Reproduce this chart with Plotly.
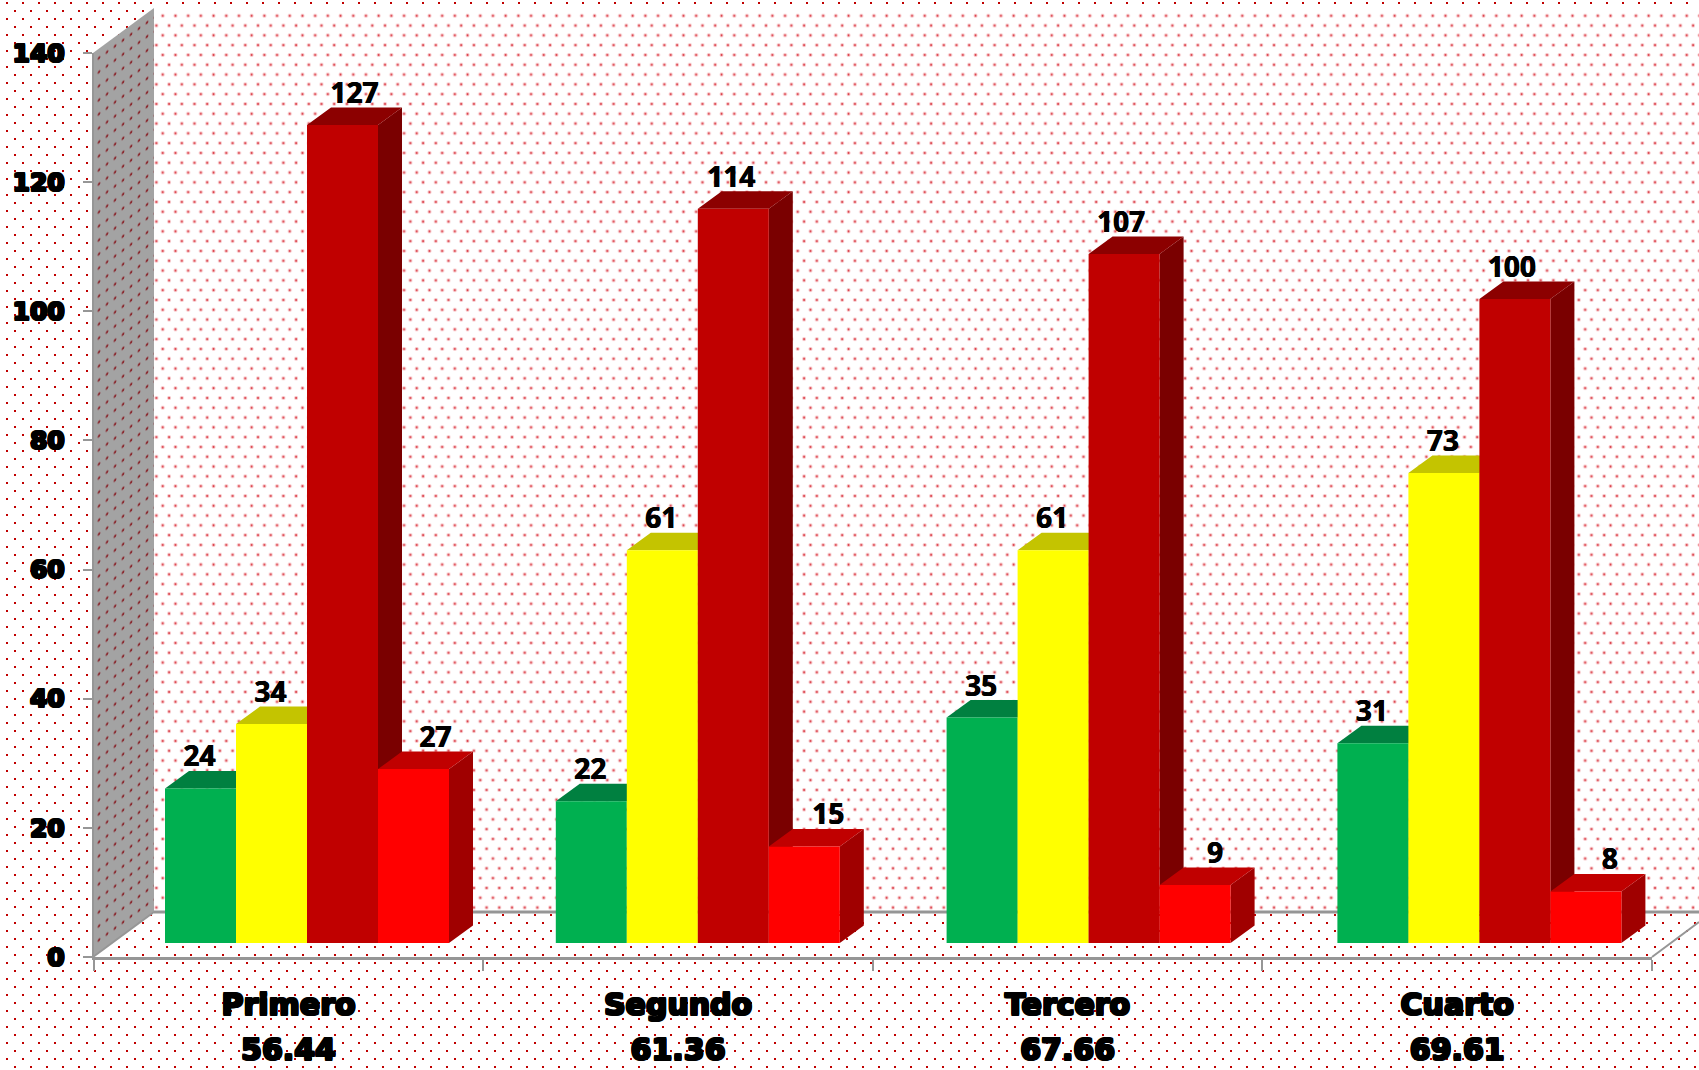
import base64
import plotly.graph_objects as go

categories = ["Primero", "Segundo", "Tercero", "Cuarto"]
scores = ["56.44", "61.36", "67.66", "69.61"]
green = [24, 22, 35, 31]
yellow = [34, 61, 61, 73]
dark_red = [127, 114, 107, 100]
red = [27, 15, 9, 8]
y_ticks = [0, 20, 40, 60, 80, 100, 120, 140]

# horizontal nudges of the value labels, px (they were moved by hand in the original)
nudge_green = [-1, -1, -1, -1]
nudge_yellow = [-1, -1, -1, -1]
nudge_dark_red = [12, -2, -3, -3]
nudge_red = [22, 24, 20, 24]

W, H = 1699, 1070
AX_L, AX_R, AX_T, AX_B = 93.7, 1652.0, 53.0, 957.0   # front axis box, px
BASE_PX, PX_PER_UNIT = 943.0, 6.44                    # bars stand on the raised floor
CAT_PX, CAT0_PX = 390.8, 307.0                        # category pitch / first group centre
BAR_PX = 71.0
DEPTH_X_PX, DEPTH_Y_PX = 24.0, 17.5

GREY = "#969696"
STROKE = ("1px 0 0 #000, -1px 0 0 #000, 0 1px 0 #000, 0 -1px 0 #000, "
          "1px 1px 0 #000, -1px -1px 0 #000, 1px -1px 0 #000, -1px 1px 0 #000")
FONT_X = dict(family="DejaVu Sans", size=30, weight=700, color="#000000", shadow=STROKE)
FONT_Y = dict(family="DejaVu Sans", size=25, weight=700, color="#000000", shadow=STROKE)
FONT_LABEL = dict(family="Noto Sans", size=28, weight=700, color="#000000",
                  shadow="0.4px 0 0 #000, -0.4px 0 0 #000")

svg = f'''<svg xmlns="http://www.w3.org/2000/svg" width="{W}" height="{H}" viewBox="0 0 {W} {H}">
<defs>
<pattern id="outer" width="16" height="16" patternUnits="userSpaceOnUse">
<rect x="6" y="2" width="2" height="2" fill="#C00000"/><rect x="14" y="10" width="2" height="2" fill="#C00000"/>
</pattern>
<pattern id="back" width="12.7" height="19.6" patternUnits="userSpaceOnUse" x="1" y="3">
<circle cx="3" cy="3" r="2" fill="#F6BFC2"/><circle cx="3" cy="3" r="1" fill="#D93A44"/>
<circle cx="9.35" cy="12.8" r="2" fill="#F6BFC2"/><circle cx="9.35" cy="12.8" r="1" fill="#D93A44"/>
</pattern>
<pattern id="side" width="8" height="14" patternUnits="userSpaceOnUse" patternTransform="skewY(-36.4)">
<circle cx="3" cy="5" r="1.4" fill="#8A2A30"/>
</pattern>
</defs>
<rect width="{W}" height="{H}" fill="#FFFFFF"/>
<rect width="{W}" height="{H}" fill="url(#outer)"/>
<rect x="154" y="8" width="{W-154}" height="904" fill="#FFFFFF"/>
<rect x="154" y="8" width="{W-154}" height="904" fill="url(#back)"/>
<polygon points="93,53 154,8 154,912 93,957" fill="#A3A3A3"/>
<polygon points="93,53 154,8 154,912 93,957" fill="url(#side)"/>
<line x1="154" y1="912" x2="{W}" y2="912" stroke="{GREY}" stroke-width="3"/>
<line x1="93" y1="957" x2="154" y2="912" stroke="{GREY}" stroke-width="2"/>
<line x1="{AX_R}" y1="957" x2="{W}" y2="922" stroke="{GREY}" stroke-width="2"/>
</svg>'''
backdrop = "data:image/svg+xml;base64," + base64.b64encode(svg.encode()).decode()

# scale helpers: pixel sizes of the 3D projection expressed in data units
dx = DEPTH_X_PX / CAT_PX
dy = DEPTH_Y_PX / PX_PER_UNIT
bw = BAR_PX / CAT_PX
x_range = [(AX_L - CAT0_PX) / CAT_PX, (AX_R - CAT0_PX) / CAT_PX]
y_range = [(BASE_PX - AX_B) / PX_PER_UNIT, (BASE_PX - AX_T) / PX_PER_UNIT]

series = [
    ("Verde", green, "#00B050", "#008040", "#007A36", nudge_green),
    ("Amarillo", yellow, "#FFFF00", "#C4C400", "#A8A800", nudge_yellow),
    ("Rojo oscuro", dark_red, "#C00000", "#8C0000", "#7A0000", nudge_dark_red),
    ("Rojo", red, "#FF0000", "#C00000", "#A00000", nudge_red),
]

fig = go.Figure()

# top and side faces sit under the fronts
for s, (name, vals, front, top, side, nudge) in enumerate(series):
    side_x, side_y, top_x, top_y = [], [], [], []
    for c, v in enumerate(vals):
        x0 = c + (s - 2) * bw
        x1 = x0 + bw
        side_x += [x1, x1 + dx, x1 + dx, x1, x1, None]
        side_y += [0, dy, v + dy, v, 0, None]
        top_x += [x0, x0 + dx, x1 + dx, x1, x0, None]
        top_y += [v, v + dy, v + dy, v, v, None]
    for fx, fy, col in ((side_x, side_y, side), (top_x, top_y, top)):
        fig.add_trace(go.Scatter(x=fx, y=fy, mode="lines", fill="toself", fillcolor=col,
                                 line=dict(width=0, color=col), hoverinfo="skip",
                                 showlegend=False, xaxis="x", yaxis="y"))

# front faces
for name, vals, front, top, side, nudge in series:
    fig.add_trace(go.Bar(x=list(range(len(vals))), y=vals, name=name,
                         marker=dict(color=front, line=dict(width=0)),
                         showlegend=False, xaxis="x2", yaxis="y2"))

# data labels
for s, (name, vals, front, top, side, nudge) in enumerate(series):
    fig.add_trace(go.Scatter(
        x=[c + (s - 1.5) * bw + nudge[c] / CAT_PX for c in range(len(vals))],
        y=[v + dy - 2.5 / PX_PER_UNIT for v in vals],
        text=[str(v) for v in vals], mode="text", textposition="top center",
        textfont=FONT_LABEL, cliponaxis=False, hoverinfo="skip",
        showlegend=False, xaxis="x2", yaxis="y2"))

# carriers for the visible axes
fig.add_trace(go.Scatter(x=categories, y=[0] * 4, mode="markers", marker=dict(opacity=0),
                         hoverinfo="skip", showlegend=False, xaxis="x3", yaxis="y3"))
fig.add_trace(go.Scatter(x=scores, y=[0] * 4, mode="markers", marker=dict(opacity=0),
                         hoverinfo="skip", showlegend=False, xaxis="x4", yaxis="y3"))

xdom = [AX_L / W, AX_R / W]
ydom = [(H - AX_B) / H, (H - AX_T) / H]
hidden_x = dict(domain=xdom, range=x_range, visible=False, fixedrange=True, automargin=False)
hidden_y = dict(domain=ydom, range=y_range, visible=False, fixedrange=True, automargin=False)

fig.update_layout(
    width=W, height=H, margin=dict(l=0, r=0, t=0, b=0, pad=0),
    paper_bgcolor="rgba(0,0,0,0)", plot_bgcolor="rgba(0,0,0,0)",
    barmode="group", bargap=1 - 4 * bw, bargroupgap=0,
    showlegend=False, hovermode=False,
    images=[dict(source=backdrop, xref="paper", yref="paper", x=0, y=1, sizex=1, sizey=1,
                 xanchor="left", yanchor="top", sizing="stretch", layer="below")],
    xaxis=dict(hidden_x, anchor="y"),
    yaxis=dict(hidden_y, anchor="x"),
    xaxis2=dict(hidden_x, anchor="y2", overlaying="x"),
    yaxis2=dict(hidden_y, anchor="x2", overlaying="y"),
    xaxis3=dict(domain=xdom, anchor="y3", overlaying="x", type="category",
                categoryorder="array", categoryarray=categories, range=[-0.5, 3.5],
                tickson="boundaries", ticks="outside", ticklen=11, tickwidth=2, tickcolor=GREY,
                showline=True, linecolor=GREY, linewidth=3, showgrid=False, zeroline=False,
                tickfont=FONT_X, ticklabelstandoff=19, fixedrange=True, automargin=False),
    xaxis4=dict(domain=xdom, anchor="y3", overlaying="x", type="category",
                categoryorder="array", categoryarray=scores, range=[-0.5, 3.5],
                ticks="", showline=False, showgrid=False, zeroline=False,
                tickfont=FONT_X, ticklabelstandoff=72, fixedrange=True, automargin=False),
    yaxis3=dict(domain=ydom, anchor="x3", overlaying="y", range=[0, 140],
                tickmode="array", tickvals=y_ticks, ticks="outside", ticklen=9, tickwidth=2,
                tickcolor=GREY, showline=True, linecolor=GREY, linewidth=2, showgrid=False,
                zeroline=False, tickfont=FONT_Y, ticklabelstandoff=13, fixedrange=True,
                automargin=False),
)

fig.write_html("out.html", config=dict(displayModeBar=False),
               post_script="document.body.style.margin='0';document.body.style.overflow='hidden';")
